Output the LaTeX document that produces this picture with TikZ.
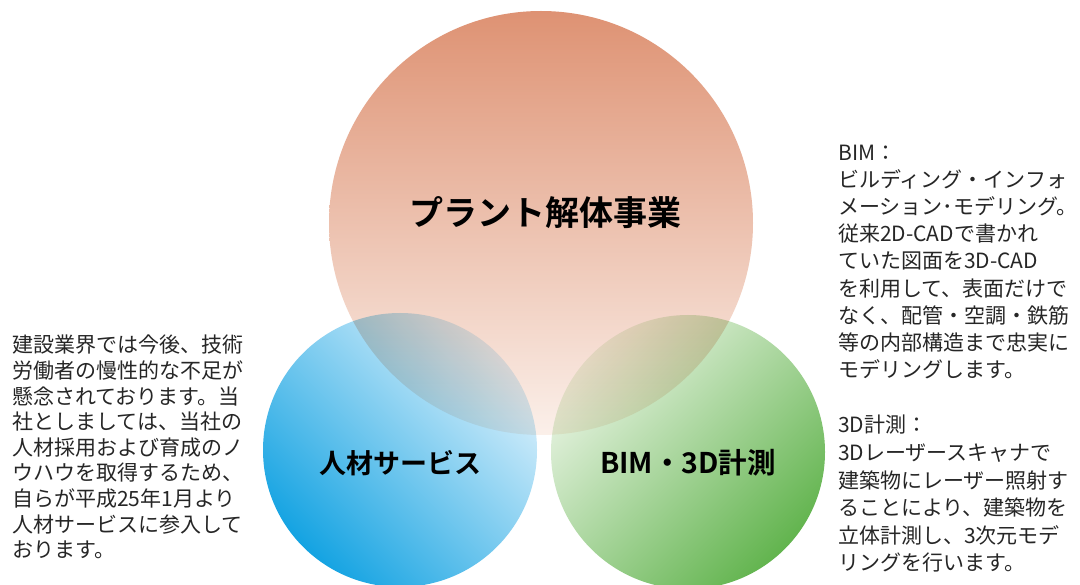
\documentclass[tikz,border=0pt]{standalone}
\usepackage{fontspec}
\setmainfont{Noto Sans CJK JP}[BoldFont={Noto Sans CJK JP Bold}]
\definecolor{orTop}{HTML}{DE9273}
\definecolor{orBot}{HTML}{FBF0EA}
\definecolor{blLight}{HTML}{DDF1FC}
\definecolor{blDark}{HTML}{14A3E2}
\definecolor{grLight}{HTML}{EBF5E6}
\definecolor{grDark}{HTML}{62B44E}
\definecolor{txt}{HTML}{262626}
\tikzset{
  biglabel/.style={inner sep=0pt, text=black},
  para/.style={inner sep=0pt, anchor=north west, align=left, text=txt}
}
\begin{document}
\begin{tikzpicture}[x=1pt,y=1pt]
\useasboundingbox (0,0) rectangle (1080,-585);
\fill[white] (0,0) rectangle (1080,-585);
\begin{scope}[blend group=multiply]
  \path[top color=orTop,bottom color=orBot] (541,-223) circle[radius=212pt];
  \path[top color=blLight,bottom color=blDark,shading angle=-45] (400,-450) circle[radius=137pt];
  \path[top color=grLight,bottom color=grDark,shading angle=45] (688,-452) circle[radius=137pt];
\end{scope}
\node[biglabel, font=\bfseries\fontsize{34}{40}\selectfont] (plant) at (545,-213) {プラント解体事業};
\node[biglabel, font=\bfseries\fontsize{27}{32}\selectfont] (jinzai) at (400,-463) {人材サービス};
\node[biglabel, font=\bfseries\fontsize{28.5}{32}\selectfont] (bim) at (688,-463) {BIM・3D計測};
\node[para, font=\fontsize{21}{25.6}\selectfont] (left) at (12,-335) {建設業界では今後、技術\\労働者の慢性的な不足が\\懸念されております。当\\社としましては、当社の\\人材採用および育成のノ\\ウハウを取得するため、\\自らが平成25年1月より\\人材サービスに参入して\\おります。};
\node[para, font=\fontsize{21}{27.1}\selectfont] (bimtxt) at (838,-145) {BIM：\\ビルディング・インフォ\\メーション･モデリング。\\従来2D-CADで書かれ\\ていた図面を3D-CAD\\を利用して、表面だけで\\なく、配管・空調・鉄筋\\等の内部構造まで忠実に\\モデリングします。};
\node[para, font=\fontsize{21}{27.6}\selectfont] (scantxt) at (838,-415) {3D計測：\\3Dレーザースキャナで\\建築物にレーザー照射す\\ることにより、建築物を\\立体計測し、3次元モデ\\リングを行います。};
\end{tikzpicture}
\end{document}
